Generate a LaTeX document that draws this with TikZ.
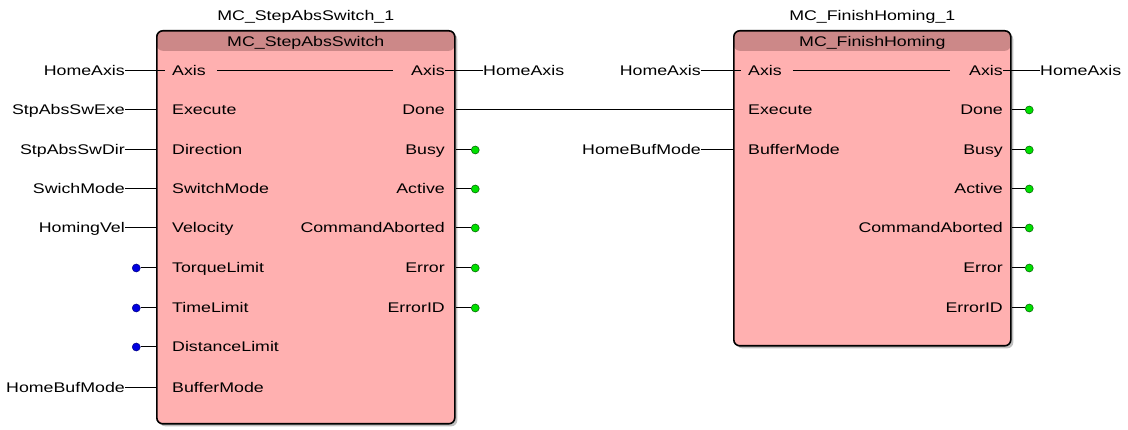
\documentclass[tikz,border=0pt]{standalone}
\usepackage{fontspec}
\newfontfamily\fbdfont[FakeStretch=1.27]{Liberation Sans}
\usetikzlibrary{positioning,shadows}

\definecolor{blkbody}{RGB}{255,176,176}
\definecolor{blkhead}{RGB}{204,136,136}
\definecolor{pingreen}{RGB}{0,224,0}
\definecolor{pinblue}{RGB}{0,0,224}

\begin{document}
\begin{tikzpicture}[x=1pt, y=-1pt,
	every node/.style={font=\fbdfont\fontsize{14}{14}\selectfont, inner sep=0pt, text height=10pt, text depth=0pt},
	fblock/.style={draw, line width=1.6pt, fill=blkbody, rounded corners=6pt, anchor=north west,
		drop shadow={shadow xshift=2.5pt, shadow yshift=-2.5pt, fill=black!50},
		path picture={\fill[blkhead] (path picture bounding box.north west) rectangle ([yshift=-20pt]path picture bounding box.north east);}},
	inpin/.style={anchor=west}, outpin/.style={anchor=east},
	gdot/.style={circle, draw=green!35!black, line width=0.5pt, fill=pingreen, minimum size=8pt, text height=0pt},
	bdot/.style={circle, draw=blue!50!black, line width=0.5pt, fill=pinblue, minimum size=8pt, text height=0pt},
	wire/.style={line width=1pt}]
	\useasboundingbox (0,0) rectangle (1128,430);

	% function blocks
	\node[fblock, minimum width=298pt, minimum height=393pt] (sas) at (156,30) {};
	\node[fblock, minimum width=277pt, minimum height=315pt] (fh) at (733,30) {};
	\node[above=9pt of sas.north] (sasTitle) {MC\_StepAbsSwitch\_1};
	\node[below=6pt of sas.north] (sasType) {MC\_StepAbsSwitch};
	\node[above=9pt of fh.north] (fhTitle) {MC\_FinishHoming\_1};
	\node[below=6pt of fh.north] (fhType) {MC\_FinishHoming};

	% MC_StepAbsSwitch inputs
	\node[inpin] (sasAx) at (172,71) {Axis};
	\node[inpin] (sasExe) at (172,110) {Execute};
	\node[inpin] (sasDir) at (172,150) {Direction};
	\node[inpin] (sasMode) at (172,189) {SwitchMode};
	\node[inpin] (sasVel) at (172,228) {Velocity};
	\node[inpin] (sasTrq) at (172,268) {TorqueLimit};
	\node[inpin] (sasTime) at (172,308) {TimeLimit};
	\node[inpin] (sasDist) at (172,347) {DistanceLimit};
	\node[inpin] (sasBuf) at (172,388) {BufferMode};

	% MC_StepAbsSwitch outputs
	\node[outpin] (sasAxO) at (445,71) {Axis};
	\node[outpin] (sasDone) at (445,110) {Done};
	\node[outpin] (sasBusy) at (445,150) {Busy};
	\node[outpin] (sasAct) at (445,189) {Active};
	\node[outpin] (sasAbort) at (445,228) {CommandAborted};
	\node[outpin] (sasErr) at (445,268) {Error};
	\node[outpin] (sasErrID) at (445,308) {ErrorID};

	% variables on MC_StepAbsSwitch
	\node[left=47pt of sasAx] (sasAxV) {HomeAxis};
	\node[left=47pt of sasExe] (sasExeV) {StpAbsSwExe};
	\node[left=47pt of sasDir] (sasDirV) {StpAbsSwDir};
	\node[left=47pt of sasMode] (sasModeV) {SwichMode};
	\node[left=47pt of sasVel] (sasVelV) {HomingVel};
	\node[left=31.5pt of sasTrq, bdot] (sasTrqV) {};
	\node[left=31.5pt of sasTime, bdot] (sasTimeV) {};
	\node[left=31.5pt of sasDist, bdot] (sasDistV) {};
	\node[left=47pt of sasBuf] (sasBufV) {HomeBufMode};
	\node[right=38pt of sasAxO] (sasAxOV) {HomeAxis};
	\node[right=26pt of sasBusy, gdot] (sasBusyV) {};
	\node[right=26pt of sasAct, gdot] (sasActV) {};
	\node[right=26pt of sasAbort, gdot] (sasAbortV) {};
	\node[right=26pt of sasErr, gdot] (sasErrV) {};
	\node[right=26pt of sasErrID, gdot] (sasErrIDV) {};

	% MC_FinishHoming pins
	\node[inpin] (fhAx) at (748,71) {Axis};
	\node[inpin] (fhExe) at (748,110) {Execute};
	\node[inpin] (fhBuf) at (748,150) {BufferMode};
	\node[outpin] (fhAxO) at (1003,71) {Axis};
	\node[outpin] (fhDone) at (1003,110) {Done};
	\node[outpin] (fhBusy) at (1003,150) {Busy};
	\node[outpin] (fhAct) at (1003,189) {Active};
	\node[outpin] (fhAbort) at (1003,228) {CommandAborted};
	\node[outpin] (fhErr) at (1003,268) {Error};
	\node[outpin] (fhErrID) at (1003,308) {ErrorID};

	% variables on MC_FinishHoming
	\node[left=47pt of fhAx] (fhAxV) {HomeAxis};
	\node[left=47pt of fhBuf] (fhBufV) {HomeBufMode};
	\node[right=37pt of fhAxO] (fhAxOV) {HomeAxis};
	\node[right=22pt of fhDone, gdot] (fhDoneV) {};
	\node[right=22pt of fhBusy, gdot] (fhBusyV) {};
	\node[right=22pt of fhAct, gdot] (fhActV) {};
	\node[right=22pt of fhAbort, gdot] (fhAbortV) {};
	\node[right=22pt of fhErr, gdot] (fhErrV) {};
	\node[right=22pt of fhErrID, gdot] (fhErrIDV) {};

	% wiring
	\draw[wire] (sasAxV) -- ([xshift=-7pt]sasAx.west);
	\draw[wire] ([xshift=11pt]sasAx.east) -- ([xshift=-18pt]sasAxO.west);
	\draw[wire] (sasAxO) -- (sasAxOV);
	\draw[wire] (sasExeV) -- (sasExeV -| sas.west);
	\draw[wire] (sasDirV) -- (sasDirV -| sas.west);
	\draw[wire] (sasModeV) -- (sasModeV -| sas.west);
	\draw[wire] (sasVelV) -- (sasVelV -| sas.west);
	\draw[wire] (sasTrqV) -- (sasTrqV -| sas.west);
	\draw[wire] (sasTimeV) -- (sasTimeV -| sas.west);
	\draw[wire] (sasDistV) -- (sasDistV -| sas.west);
	\draw[wire] (sasBufV) -- (sasBufV -| sas.west);
	\draw[wire] (sasBusyV -| sas.east) -- (sasBusyV);
	\draw[wire] (sasActV -| sas.east) -- (sasActV);
	\draw[wire] (sasAbortV -| sas.east) -- (sasAbortV);
	\draw[wire] (sasErrV -| sas.east) -- (sasErrV);
	\draw[wire] (sasErrIDV -| sas.east) -- (sasErrIDV);
	\draw[wire] (sasDone -| sas.east) -- (fhExe -| fh.west);
	\draw[wire] (fhAxV) -- ([xshift=-7pt]fhAx.west);
	\draw[wire] ([xshift=11pt]fhAx.east) -- ([xshift=-19pt]fhAxO.west);
	\draw[wire] (fhAxO) -- (fhAxOV);
	\draw[wire] (fhBufV) -- (fhBufV -| fh.west);
	\draw[wire] (fhDoneV -| fh.east) -- (fhDoneV);
	\draw[wire] (fhBusyV -| fh.east) -- (fhBusyV);
	\draw[wire] (fhActV -| fh.east) -- (fhActV);
	\draw[wire] (fhAbortV -| fh.east) -- (fhAbortV);
	\draw[wire] (fhErrV -| fh.east) -- (fhErrV);
	\draw[wire] (fhErrIDV -| fh.east) -- (fhErrIDV);
\end{tikzpicture}
\end{document}
